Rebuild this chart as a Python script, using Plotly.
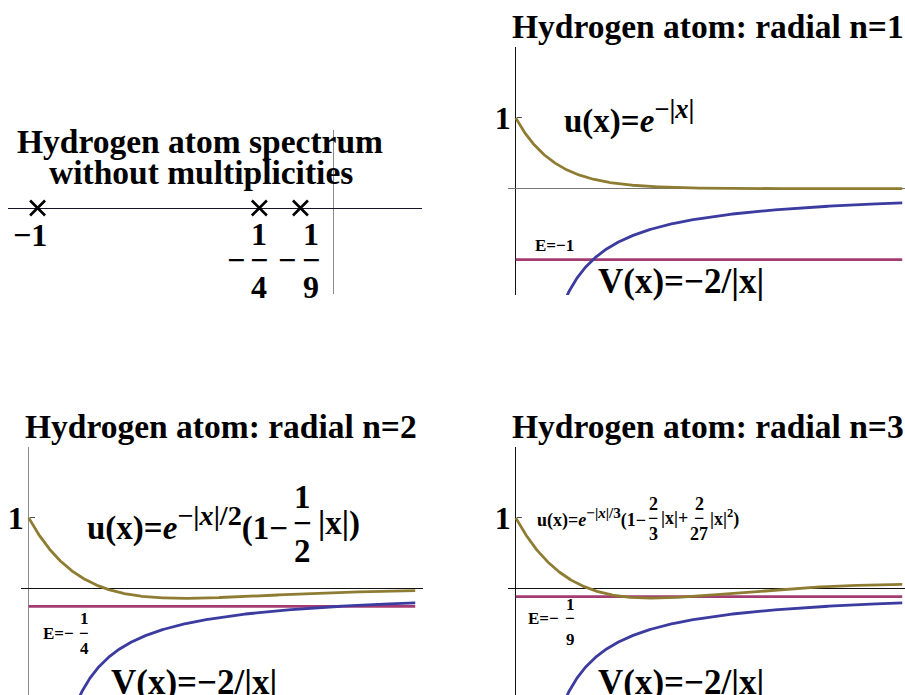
import numpy as np
import plotly.graph_objects as go

W, H = 905, 695
SERIF = "Liberation Serif"

# ---- data -------------------------------------------------------------
# Bound-state energies of the radial hydrogen problem, E_n = -1/n^2
levels = [1, 2, 3]
energies = [-1.0, -1.0 / 4, -1.0 / 9]
spectrum_marks_y = [0.0, 0.0, 0.0]

x_max = 10.0
x_grid = np.linspace(0.0, x_max, 600)
x_pot = np.linspace(0.5, x_max, 600)


def radial_u(n, x):
    """Radial functions quoted in the panel labels."""
    if n == 1:
        return np.exp(-x)
    if n == 2:
        return np.exp(-x / 2) * (1 - x / 2)
    return np.exp(-x / 3) * (1 - 2 * x / 3 + 2 * x ** 2 / 27)


def potential(x):
    return -2.0 / x


# ---- styling ----------------------------------------------------------
U_COLOR = "#8d7c32"
V_COLOR = "#3b3ba0"
E_COLOR = "#a33c72"
LW = 2.8
PX_PER_UNIT = 38.65
Y_RANGE = [-1.5, 2.0]


def px(x):
    return x / W


def py(y):
    return 1 - y / H


fig = go.Figure()

# spectrum panel (axis pair 1)
fig.add_trace(go.Scatter(
    x=energies, y=spectrum_marks_y, mode="markers",
    marker=dict(symbol="x-thin", size=15, color="black",
                line=dict(color="black", width=2.6)),
    xaxis="x", yaxis="y", showlegend=False, hoverinfo="skip"))

# radial panels (axis pairs 2..4)
panels = {
    1: dict(ax="2", xdom=(508, 905), ydom=(47, 295), hline="#777777", vline="#111111"),
    2: dict(ax="3", xdom=(21, 423), ydom=(447, 695), hline="#111111", vline="#8a8a8a"),
    3: dict(ax="4", xdom=(508, 905), ydom=(447, 695), hline="#111111", vline="#111111"),
}

for n, E in zip(levels, energies):
    p = panels[n]
    xa, ya = "x" + p["ax"], "y" + p["ax"]
    fig.add_trace(go.Scatter(x=[0, x_max], y=[E, E], mode="lines",
                             line=dict(color=E_COLOR, width=LW),
                             xaxis=xa, yaxis=ya, showlegend=False, hoverinfo="skip"))
    fig.add_trace(go.Scatter(x=x_pot, y=potential(x_pot), mode="lines",
                             line=dict(color=V_COLOR, width=LW),
                             xaxis=xa, yaxis=ya, showlegend=False, hoverinfo="skip"))
    fig.add_trace(go.Scatter(x=x_grid, y=radial_u(n, x_grid), mode="lines",
                             line=dict(color=U_COLOR, width=LW),
                             xaxis=xa, yaxis=ya, showlegend=False, hoverinfo="skip"))

layout = dict(
    width=W, height=H, margin=dict(l=0, r=0, t=0, b=0),
    paper_bgcolor="white", plot_bgcolor="rgba(0,0,0,0)",
    showlegend=False,
    font=dict(family=SERIF, color="black"),
)

# spectrum axes
layout["xaxis"] = dict(domain=[px(8), px(422)], range=[-1.1, 0.3], anchor="y",
                       showgrid=False, showticklabels=False, ticks="",
                       zeroline=True, zerolinecolor="#8a8a8a", zerolinewidth=1)
layout["yaxis"] = dict(domain=[py(294), py(130)], range=[-0.86, 0.78], anchor="x",
                       showgrid=False, showticklabels=False, ticks="",
                       zeroline=True, zerolinecolor="#15152a", zerolinewidth=1)

for n, p in panels.items():
    x0, x1 = p["xdom"]
    y0, y1 = p["ydom"]
    xr = [-0.2, -0.2 + (x1 - x0) / PX_PER_UNIT]
    axis_px = x0 + 0.2 * PX_PER_UNIT
    layout["xaxis" + p["ax"]] = dict(
        domain=[px(x0), px(x1)], range=xr, anchor="y" + p["ax"],
        showgrid=False, showticklabels=False, ticks="",
        zeroline=True, zerolinecolor=p["vline"], zerolinewidth=1)
    layout["yaxis" + p["ax"]] = dict(
        domain=[py(y1), py(y0)], range=Y_RANGE, anchor="free", position=px(axis_px),
        showgrid=False, showline=False,
        zeroline=True, zerolinecolor=p["hline"], zerolinewidth=1,
        tickmode="array", tickvals=[1], ticktext=["1"], ticks="inside",
        ticklen=5, tickcolor="#555555", tickwidth=1, ticklabelstandoff=5,
        tickfont=dict(family=SERIF, size=32, color="black", weight="bold"))

fig.update_layout(**layout)

annotations = []


def label(text, x, y, size, xanchor="center", yanchor="middle", height=None):
    ann = dict(
        text=text, x=px(x), y=py(y), xref="paper", yref="paper",
        xanchor=xanchor, yanchor=yanchor, showarrow=False, borderpad=0,
        font=dict(family=SERIF, size=size, color="black", weight="bold"))
    if height is not None:
        ann["height"] = height
    annotations.append(ann)


def fraction(num, den, x, y_bar, size, up, down=None):
    down = up if down is None else down
    label(num, x, y_bar - up, size, height=min(up, down))
    label("\u2212", x, y_bar, size, height=int(size * 0.45))
    label(den, x, y_bar + down, size, height=min(up, down))


def sup(text, scale):
    return "<sup><span style=\"font-size:%d%%\">%s</span></sup>" % (scale, text)


TITLE = 33.5
# titles
label("Hydrogen atom spectrum", 200, 141, TITLE)
label("without multiplicities", 201, 172, TITLE)
label("Hydrogen atom: radial n=1", 708, 26, TITLE)
label("Hydrogen atom: radial n=2", 221, 426, TITLE)
label("Hydrogen atom: radial n=3", 708, 426, TITLE)

# spectrum tick labels
label("\u22121", 30, 235, 32)
label("\u2212", 236, 260, 32, height=14)
fraction("1", "4", 259, 260, 32, 27)
label("\u2212", 287, 260, 32, height=14)
fraction("1", "9", 311, 260, 32, 27)

# n = 1
label("u(x)=<i>e</i>" + sup("\u2212|<i>x</i>|", 115), 563, 117, 33, xanchor="left")
label("E=\u22121", 534, 246, 17, xanchor="left")
label("V(x)=\u22122/|x|", 597, 281, 35, xanchor="left")

# n = 2
label("u(x)=<i>e</i>" + sup("\u2212|<i>x</i>|/2", 122) + "(1\u2212", 289, 523, 33, xanchor="right")
fraction("1", "2", 302, 523, 33, 27)
label("|x|)", 317, 523, 33, xanchor="left")
label("E=\u2212", 75, 633, 17, xanchor="right")
fraction("1", "4", 84, 633, 17, 15)
label("V(x)=\u22122/|x|", 110, 682, 35, xanchor="left")

# n = 3
label("u(x)=<i>e</i>" + sup("\u2212|<i>x</i>|/3", 120) + "(1\u2212", 647, 518, 18, xanchor="right")
fraction("2", "3", 653, 518, 18, 15)
label("|x|+", 660, 518, 18, xanchor="left")
fraction("2", "27", 699, 518, 18, 15)
label("|x|<sup>2</sup>)", 709, 518, 18, xanchor="left")
label("E=\u2212", 560, 618, 17, xanchor="right")
fraction("1", "9", 570, 618, 17, 14, 21)
label("V(x)=\u22122/|x|", 597, 682, 35, xanchor="left")

fig.update_layout(annotations=annotations)
fig.write_html("out.html")
